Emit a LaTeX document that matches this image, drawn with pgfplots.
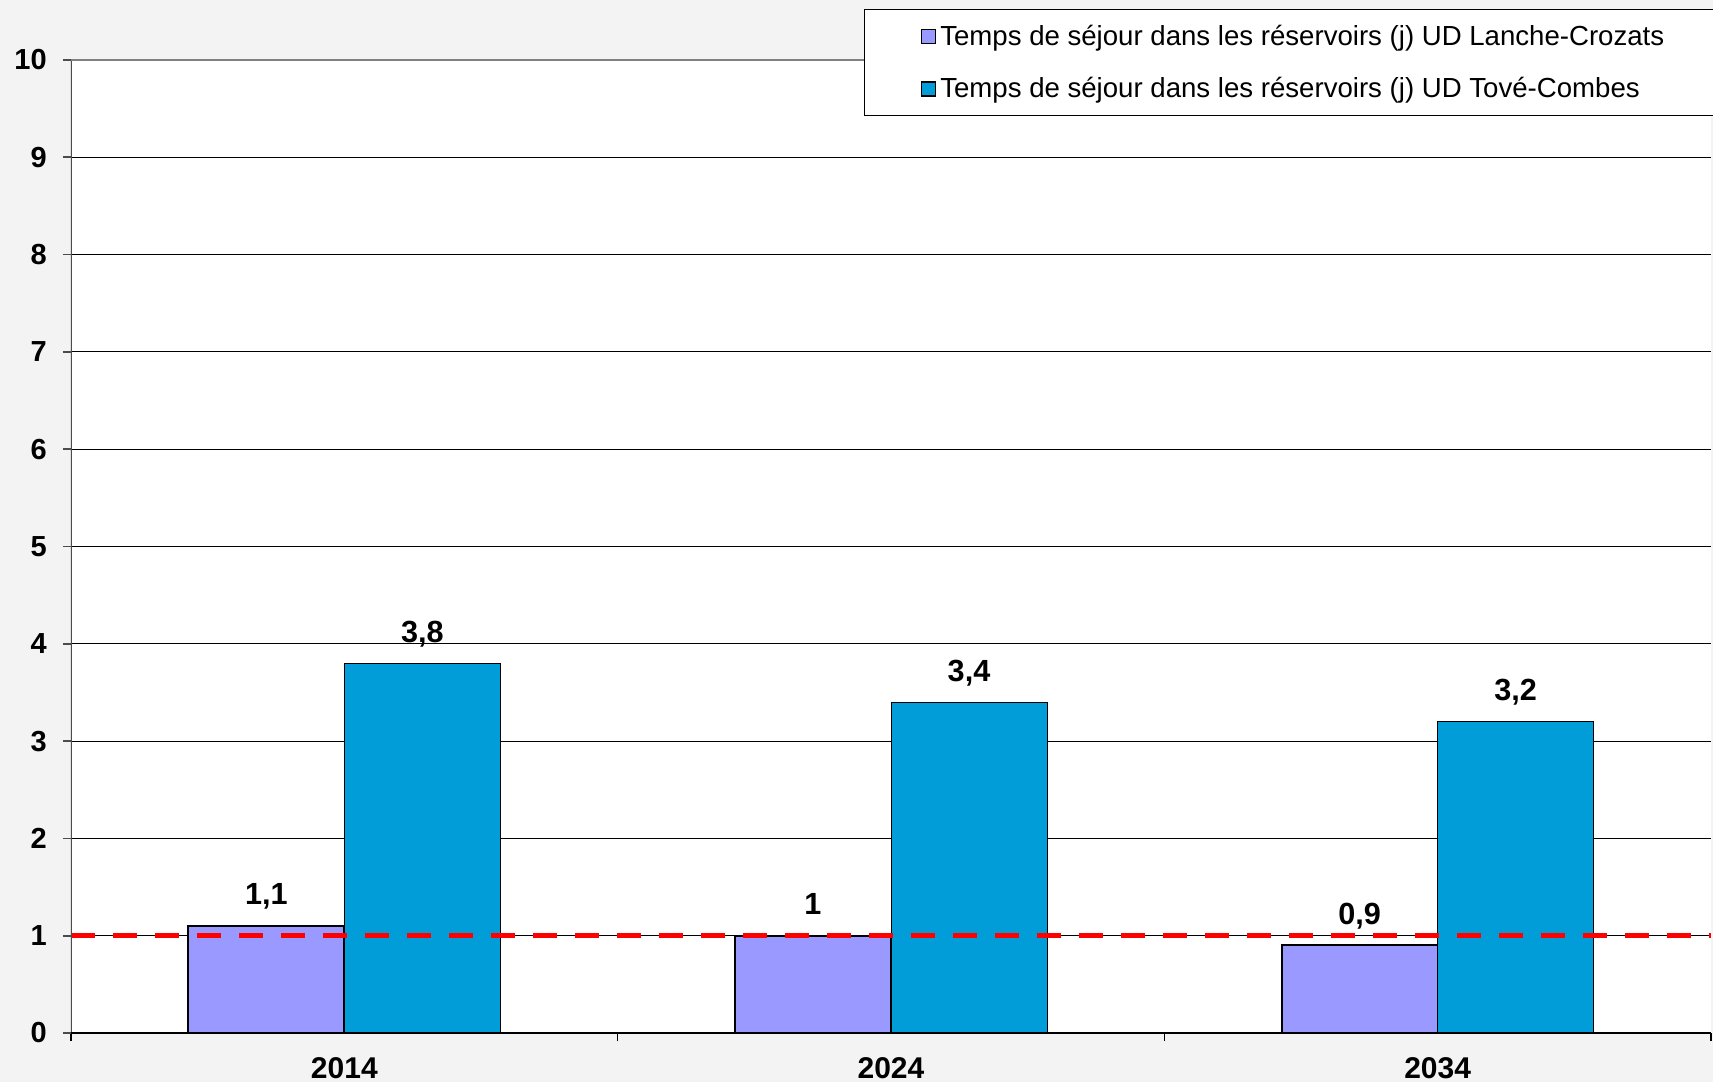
\documentclass[border=0pt]{standalone}
\usepackage{fontspec}
\setmainfont{Liberation Sans}
\usepackage{pgfplots}
\pgfplotsset{compat=1.18}
\definecolor{lav}{RGB}{153,153,255}
\definecolor{cy}{RGB}{0,157,217}
\definecolor{bg}{RGB}{243,243,243}
\pgfplotsset{sqleg/.style={legend image code/.code={\draw[##1, draw=black, line width=0.8pt] (0pt,-3.5pt) rectangle (7pt,3.5pt);}}}
\begin{document}
\begin{tikzpicture}
\fill[bg] (-35.5pt,-24.5pt) rectangle (821pt,516.5pt);
\useasboundingbox (-35.5pt,-24.5pt) rectangle (821pt,516.5pt);
\begin{axis}[
  at={(0,0)}, anchor=south west,
  width=820pt, height=486.5pt, scale only axis,
  xmin=-0.5, xmax=2.5, ymin=0, ymax=10,
  ybar=0pt, bar width=78pt,
  axis background/.style={fill=white},
  axis line style={draw=none},
  /pgf/number format/assume math mode=true,
  /pgf/number format/use comma,
  ytick={0,1,...,10},
  ymajorgrids, grid style={black, line width=0.6pt},
  tick align=outside, major tick length=4pt, minor tick length=4pt,
  tick pos=left,
  y tick style={gray!60!black, line width=0.8pt},
  xtick={0,1,2}, xticklabels={2014,2024,2034},
  major x tick style={draw=none},
  minor xtick={-0.5,0.5,1.5,2.5},
  minor x tick style={black, line width=0.8pt},
  yticklabel style={font=\bfseries\fontsize{14.5}{16}\selectfont, xshift=-4.6pt},
  xticklabel style={font=\bfseries\fontsize{15}{17}\selectfont, yshift=-4.6pt},
  nodes near coords,
  every node near coord/.append style={font=\bfseries\fontsize{15.3}{17}\selectfont, black, anchor=base, yshift=10.5pt},
  legend style={at={(0.48354,1.0524)}, anchor=north west, draw=black, line width=0.7pt, fill=white,
    inner xsep=28pt, inner ysep=5.5pt, row sep=10.7pt, font=\fontsize{13.8}{15}\selectfont,
    /tikz/every even column/.append style={column sep=2pt}},
  legend cell align=left,
]
\addplot[fill=lav, draw=black, line width=1pt, bar shift=-39pt, sqleg] coordinates {(0,1.1) (1,1) (2,0.9)};
\addplot[fill=cy, draw=black, line width=0.5pt, bar shift=39pt, sqleg] coordinates {(0,3.8) (1,3.4) (2,3.2)};
\legend{Temps de séjour dans les réservoirs (j) UD Lanche-Crozats, Temps de séjour dans les réservoirs (j) UD Tové-Combes}
\draw[red, line width=2.5pt, dash pattern=on 12pt off 9pt] (axis cs:-0.5,1) -- (axis cs:2.5,1);
\draw[gray!60!black, line width=1pt] (rel axis cs:0,0) -- (rel axis cs:0,1);
\draw[gray, line width=1pt] (rel axis cs:0,1) -- (rel axis cs:1,1);
\draw[black, line width=0.8pt] (rel axis cs:0,0) -- (rel axis cs:1,0);
\end{axis}
\end{tikzpicture}
\end{document}
